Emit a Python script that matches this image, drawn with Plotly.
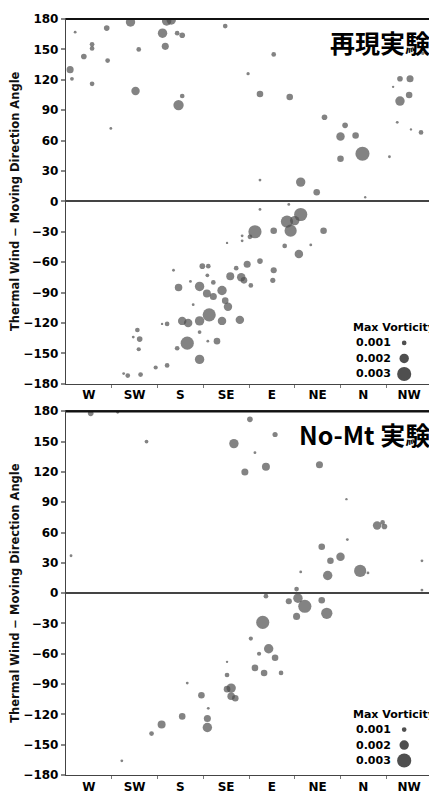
import plotly.graph_objects as go
from plotly.subplots import make_subplots

dir_labels = ["W", "SW", "S", "SE", "E", "NE", "N", "NW"]
y_ticks = [-180, -150, -120, -90, -60, -30, 0, 30, 60, 90, 120, 150, 180]

# 再現実験 : x = moving direction (category index, W=0 ... NW=7), y = angle, v = max vorticity
repro_x = [0.91, 1.70, 1.80, -0.30, 0.39, 1.61, 1.93, 2.04, 0.07, 0.07, 1.09, 1.67, -0.11, 0.41,
           -0.41, -0.37, 0.07, 1.02, 2.04, 1.96, 0.48, 2.98, 4.04, 7.30, 3.48, 6.80, 7.02, 6.65,
           3.74, 4.39, 7.00, 6.80, 5.15, 6.74, 5.60, 7.04, 7.26, 5.50, 5.83, 5.98, 5.50, 6.57,
           3.74, 4.63, 4.98, 6.04,
           1.85, 2.48, 2.61, 2.59, 2.22, 2.72, 1.96, 2.42, 2.58, 2.72, 2.28, 2.63, 2.42, 2.04,
           2.17, 1.60, 1.71, 1.06, 1.11, 0.97, 2.42, 1.09, 2.15, 1.93, 2.60, 2.80, 2.42, 1.46,
           1.71, 0.76, 0.85, 1.13,
           3.74, 4.37, 4.63, 4.33, 4.50, 4.41, 5.13, 4.04, 3.63, 3.52, 3.35, 3.35, 3.02, 4.28,
           4.85, 4.59, 3.74, 3.46, 3.22, 4.04, 3.09, 3.33, 3.39, 4.02, 3.54, 2.91, 2.98, 3.04,
           2.91, 3.30]
repro_y = [177, 178, 179, 167, 171, 166, 166, 164, 155, 151, 150, 153, 143, 139,
           130, 121, 116, 109, 104, 95, 72, 173, 145, 146, 126, 121, 121, 113,
           106, 103, 105, 99, 83, 78, 75, 71, 68, 64, 65, 47, 42, 44,
           21, 19, 9, 4,
           -68, -64, -64, -73, -79, -80, -85, -84, -91, -94, -102, -112, -118, -118,
           -120, -121, -121, -127, -136, -134, -129, -146, -140, -145, -138, -138, -156, -164,
           -162, -170, -172, -171,
           -8, -3, -13, -20, -19, -29, -29, -29, -30, -35, -34, -39, -41, -44,
           -43, -52, -59, -62, -66, -68, -74, -75, -78, -78, -83, -88, -98, -104,
           -118, -117]
repro_v = [0.0020, 0.0020, 0.0020, 0.0006, 0.0012, 0.0020, 0.0010, 0.0012, 0.0010, 0.0010, 0.0010, 0.0015, 0.0012, 0.0010,
           0.0015, 0.0008, 0.0010, 0.0018, 0.0010, 0.0022, 0.0006, 0.0010, 0.0010, 0.0007, 0.0007, 0.0012, 0.0015, 0.0005,
           0.0014, 0.0014, 0.0014, 0.0020, 0.0012, 0.0006, 0.0012, 0.0005, 0.0010, 0.0018, 0.0014, 0.0030, 0.0014, 0.0006,
           0.0006, 0.0020, 0.0014, 0.0005,
           0.0006, 0.0012, 0.0010, 0.0008, 0.0006, 0.0010, 0.0016, 0.0020, 0.0017, 0.0015, 0.0006, 0.0028, 0.0020, 0.0018,
           0.0018, 0.0005, 0.0010, 0.0010, 0.0012, 0.0006, 0.0008, 0.0009, 0.0028, 0.0010, 0.0006, 0.0014, 0.0020, 0.0009,
           0.0010, 0.0006, 0.0010, 0.0010,
           0.0006, 0.0006, 0.0028, 0.0026, 0.0020, 0.0026, 0.0014, 0.0014, 0.0028, 0.0010, 0.0006, 0.0006, 0.0005, 0.0010,
           0.0006, 0.0018, 0.0012, 0.0015, 0.0010, 0.0013, 0.0017, 0.0018, 0.0014, 0.0011, 0.0010, 0.0020, 0.0014, 0.0018,
           0.0018, 0.0018]

# No-Mt 実験
nomt_x = [0.04, 0.63, 1.26, -0.39, 3.52, 3.17, 4.07, 3.63, 3.87, 3.41, 5.04, 5.63, 6.30, 6.46,
          6.42, 5.65, 5.09, 5.50, 5.28, 7.28, 5.93, 6.10, 4.63, 5.22, 4.54, 7.28,
          3.87, 4.57, 4.37, 5.09, 4.72, 5.20, 4.54, 3.80, 3.54, 3.93, 3.72, 4.07, 3.02, 3.63,
          3.83, 4.20, 3.02, 3.11, 3.02, 3.11, 3.20,
          2.15, 2.46, 2.61, 2.04, 2.59, 2.59, 1.59, 1.37, 0.72]
nomt_y = [178, 179, 150, 37, 172, 148, 157, 139, 125, 120, 127, 93, 67, 66,
          70, 53, 46, 36, 32, 32, 22, 20, 21, 17.5, 4, 3,
          -3, -5, -8, -7, -13, -20, -23, -29, -45, -55, -60, -64, -68, -74,
          -79, -79, -81, -94, -95, -102, -104,
          -89, -101, -114, -122, -124, -133, -130, -139, -166]
nomt_v = [0.0012, 0.0006, 0.0008, 0.0006, 0.0012, 0.0020, 0.0011, 0.0006, 0.0017, 0.0015, 0.0015, 0.0005, 0.0018, 0.0012,
          0.0010, 0.0006, 0.0014, 0.0018, 0.0014, 0.0006, 0.0026, 0.0006, 0.0006, 0.0020, 0.0010, 0.0006,
          0.0010, 0.0020, 0.0013, 0.0014, 0.0028, 0.0024, 0.0015, 0.0028, 0.0009, 0.0020, 0.0009, 0.0014, 0.0005, 0.0014,
          0.0014, 0.0010, 0.0010, 0.0020, 0.0014, 0.0016, 0.0014,
          0.0006, 0.0014, 0.0006, 0.0014, 0.0015, 0.0020, 0.0017, 0.0010, 0.0006]

legend_vals = [0.001, 0.002, 0.003]
panel_titles = ["再現実験", "No-Mt 実験"]
y_title = "Thermal Wind − Moving Direction Angle"

SCALE = 4700  # px per vorticity unit
MCOL = "#4f4f4f"

fig = make_subplots(rows=2, cols=1, vertical_spacing=0.036)

for i, (xs, ys, vs) in enumerate([(repro_x, repro_y, repro_v), (nomt_x, nomt_y, nomt_v)]):
    fig.add_trace(go.Scatter(
        x=xs, y=ys, mode="markers",
        marker=dict(size=[v * SCALE for v in vs], color=MCOL, line=dict(width=0)),
        showlegend=False, hoverinfo="skip"), row=i + 1, col=1)

font_tick = dict(family="DejaVu Sans", size=12, color="black", weight="bold")

for i in (1, 2):
    fig.update_xaxes(row=i, col=1, range=[-0.5, 7.5], tickvals=list(range(8)), ticktext=dir_labels,
                     ticks="", showgrid=False, zeroline=False, showline=True, linecolor="#444",
                     linewidth=1.3, mirror=True, tickfont=font_tick,
                     minor=dict(tickvals=[k + 0.5 for k in range(7)], ticks="outside", ticklen=3,
                                tickcolor="#777", tickwidth=1))
    fig.update_yaxes(row=i, col=1, range=[-180, 180], tickvals=y_ticks, ticks="outside", ticklen=4,
                     tickcolor="#888", tickwidth=1.5, showgrid=False, zeroline=True,
                     zerolinecolor="#444", zerolinewidth=1.5, showline=True, linecolor="#444",
                     linewidth=1.3, mirror=True, tickfont=font_tick,
                     title=dict(text=y_title, font=dict(family="DejaVu Sans", size=11.5, color="#111",
                                                        weight="bold"), standoff=3))

fig.update_layout(yaxis=dict(domain=[0.5176, 1.0]), yaxis2=dict(domain=[0.0, 0.4811]))

annots = []
shapes = []
doms = [(0.5176, 1.0), (0.0, 0.4811)]
legend_tops = [0.592, 0.0806]
for i, (d0, d1) in enumerate(doms):
    xr = "x domain" if i == 0 else "x2 domain"
    yr = "y domain" if i == 0 else "y2 domain"
    # heavier top and right frame lines
    shapes.append(dict(type="line", xref=xr, yref=yr, x0=0, x1=1, y0=1, y1=1,
                       line=dict(color="#111", width=2.2)))
    shapes.append(dict(type="line", xref=xr, yref=yr, x0=1, x1=1, y0=0, y1=1,
                       line=dict(color="#111", width=2.2)))
    annots.append(dict(text=panel_titles[i], xref="paper", yref="paper", x=1.0, y=d1 - 0.004,
                       xanchor="right", yanchor="top", showarrow=False,
                       font=dict(family="Noto Sans CJK JP", size=25, color="black", weight="bold")))
    ty = legend_tops[i]
    annots.append(dict(text="Max Vorticity", xref="paper", yref="paper", x=0.78, y=ty,
                       xanchor="left", yanchor="middle", showarrow=False,
                       font=dict(family="DejaVu Sans", size=11, color="black", weight="bold")))
    for k, lv in enumerate(legend_vals):
        yy = ty - (k + 1) * 0.0205
        annots.append(dict(text=f"{lv:.3f}", xref="paper", yref="paper", x=0.786, y=yy,
                           xanchor="left", yanchor="middle", showarrow=False,
                           font=dict(family="DejaVu Sans", size=11, color="black", weight="bold")))
        r = lv * SCALE / 2
        shapes.append(dict(type="circle", xref="paper", yref="paper", xsizemode="pixel",
                           ysizemode="pixel", xanchor=0.924, yanchor=yy, x0=-r, x1=r, y0=-r, y1=r,
                           fillcolor=MCOL, line=dict(width=0)))

fig.update_layout(width=429, height=790, margin=dict(l=57, r=4, t=8, b=13),
                  paper_bgcolor="white", plot_bgcolor="white",
                  annotations=annots, shapes=shapes)

fig.write_html("out.html")
